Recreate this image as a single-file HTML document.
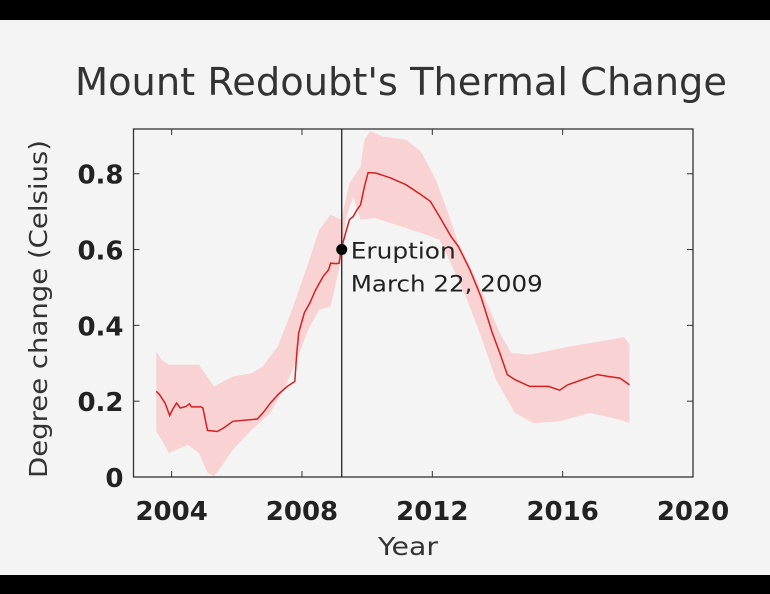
<!DOCTYPE html>
<html><head><meta charset="utf-8"><style>
html,body{margin:0;padding:0;width:770px;height:594px;overflow:hidden;background:#f4f4f4;font-family:"DejaVu Sans","Liberation Sans",sans-serif}
</style></head><body>
<svg id="chart" width="770" height="594" xmlns="http://www.w3.org/2000/svg" font-family="DejaVu Sans, Liberation Sans, sans-serif">
<rect x="0" y="0" width="770" height="594" fill="#f4f4f4"/>
<rect x="0" y="0" width="770" height="20" fill="#000"/>
<rect x="0" y="575" width="770" height="19" fill="#000"/>
<text x="75" y="95" textLength="652" lengthAdjust="spacingAndGlyphs" font-size="38" fill="#333">Mount Redoubt's Thermal Change</text>
<g id="plot"></g>
<text x="378" y="555" textLength="60" lengthAdjust="spacingAndGlyphs" font-size="25" fill="#333">Year</text>
<text transform="translate(47,309) rotate(-90)" text-anchor="middle" textLength="338" lengthAdjust="spacingAndGlyphs" font-size="25" fill="#333">Degree change (Celsius)</text>
</svg>
<script>
const lineYears=[2003.53,2003.63,2003.80,2003.94,2004.03,2004.15,2004.27,2004.44,2004.55,2004.61,2004.90,2004.96,2005.10,2005.40,2005.59,2005.88,2006.63,2006.80,2007.03,2007.26,2007.55,2007.78,2007.84,2007.90,2008.07,2008.24,2008.42,2008.65,2008.82,2008.88,2009.05,2009.14,2009.20,2009.34,2009.46,2009.57,2009.69,2009.80,2009.92,2010.03,2010.26,2010.72,2011.19,2011.65,2011.94,2012.22,2012.57,2012.80,2013.15,2013.49,2013.84,2014.07,2014.30,2014.53,2014.99,2015.57,2015.91,2016.15,2016.61,2017.07,2017.41,2017.76,2018.05];
const lineValues=[0.226,0.217,0.195,0.162,0.178,0.195,0.182,0.186,0.193,0.185,0.185,0.182,0.123,0.120,0.129,0.147,0.153,0.169,0.195,0.217,0.239,0.252,0.327,0.380,0.433,0.459,0.494,0.529,0.547,0.564,0.563,0.564,0.600,0.644,0.679,0.687,0.705,0.718,0.767,0.803,0.802,0.789,0.771,0.745,0.727,0.687,0.635,0.608,0.547,0.476,0.380,0.327,0.270,0.257,0.239,0.239,0.229,0.243,0.257,0.270,0.265,0.261,0.243];
const upperYears=[2003.53,2003.69,2003.92,2004.84,2005.30,2005.88,2006.46,2006.80,2007.26,2007.73,2008.19,2008.53,2008.88,2009.20,2009.46,2009.80,2009.92,2010.09,2010.49,2011.19,2011.65,2012.11,2012.45,2012.80,2013.26,2013.72,2014.07,2014.42,2014.99,2016.26,2017.18,2017.88,2018.05];
const upperValues=[0.331,0.309,0.296,0.296,0.239,0.265,0.274,0.292,0.345,0.450,0.564,0.652,0.692,0.679,0.775,0.819,0.890,0.912,0.898,0.890,0.859,0.784,0.705,0.617,0.538,0.450,0.380,0.327,0.323,0.345,0.358,0.369,0.349];
const lowerYears=[2003.53,2003.69,2003.92,2004.50,2004.84,2005.10,2005.30,2005.53,2005.88,2006.46,2007.03,2007.49,2007.84,2008.19,2008.53,2008.88,2009.20,2009.34,2009.57,2009.80,2010.26,2010.72,2011.65,2012.22,2012.57,2013.03,2013.49,2013.95,2014.53,2015.11,2015.91,2016.84,2017.76,2018.05];
const lowerValues=[0.120,0.098,0.063,0.085,0.063,0.011,0.002,0.028,0.072,0.125,0.169,0.239,0.309,0.389,0.441,0.450,0.573,0.679,0.740,0.679,0.683,0.670,0.644,0.626,0.564,0.476,0.371,0.257,0.169,0.142,0.147,0.169,0.151,0.142];
const xTicks=[2004,2008,2012,2016,2020];
const yTicks=[0,0.2,0.4,0.6,0.8];
const yTickLabels=["0","0.2","0.4","0.6","0.8"];
const eruptionYear=2009.22, eruptionValue=0.6;

const L=133.5,R=693,T=129,B=477;
const X0=2002.83,X1=2020,Y0=0,Y1=0.918;
const sx=v=>L+(v-X0)/(X1-X0)*(R-L);
const sy=v=>B-(v-Y0)/(Y1-Y0)*(B-T);
const NS="http://www.w3.org/2000/svg";
const g=document.getElementById('plot');
function mk(t,a){const e=document.createElementNS(NS,t);for(const k in a)e.setAttribute(k,a[k]);g.appendChild(e);return e;}

let d=upperYears.map((y,i)=>(i?'L':'M')+sx(y).toFixed(1)+','+sy(upperValues[i]).toFixed(1)).join('');
for(let i=lowerYears.length-1;i>=0;i--)d+='L'+sx(lowerYears[i]).toFixed(1)+','+sy(lowerValues[i]).toFixed(1);
const band=mk('path',{d:d+'Z',fill:'#f9d3d3'});



const box=mk('rect',{x:L,y:T,width:R-L,height:B-T,fill:'none',stroke:'#333','stroke-width':1.3});



xTicks.forEach(t=>{
  const x=sx(t);
  const a=mk('line',{x1:x,x2:x,y1:B,y2:B-6,stroke:'#333'});
  
  
  const b=mk('line',{x1:x,x2:x,y1:T,y2:T+6,stroke:'#333'});
  
  
  const tx=mk('text',{x:x,y:520,'text-anchor':'middle','font-size':26,'font-weight':'bold',fill:'#222'});
  tx.textContent=t;
  
  
});
yTicks.forEach((t,i)=>{
  const y=sy(t);
  const a=mk('line',{x1:L,x2:L+6,y1:y,y2:y,stroke:'#333'});
  
  
  const b=mk('line',{x1:R,x2:R-6,y1:y,y2:y,stroke:'#333'});
  
  
  const tx=mk('text',{x:L-10,y:y+10,'text-anchor':'end','font-size':26,'font-weight':'bold',fill:'#222'});
  tx.textContent=yTickLabels[i];
  
  
});

const ld=lineYears.map((y,i)=>(i?'L':'M')+sx(y).toFixed(1)+','+sy(lineValues[i]).toFixed(1)).join('');
const line=mk('path',{d:ld,fill:'none',stroke:'#d42020','stroke-width':1.5});



const ex=sx(eruptionYear);
const vl=mk('line',{x1:ex,x2:ex,y1:T,y2:B,stroke:'#222','stroke-width':1.3});


const dot=mk('circle',{cx:ex,cy:sy(eruptionValue),r:5.5,fill:'#000'});


const t1=mk('text',{x:ex+9,y:sy(eruptionValue)+9,'font-size':22,textLength:105,lengthAdjust:'spacingAndGlyphs',fill:'#222'});
t1.textContent='Eruption';


const t2=mk('text',{x:ex+9,y:sy(eruptionValue)+42,'font-size':22,textLength:192,lengthAdjust:'spacingAndGlyphs',fill:'#222'});
t2.textContent='March 22, 2009';


</script>
</body></html>
